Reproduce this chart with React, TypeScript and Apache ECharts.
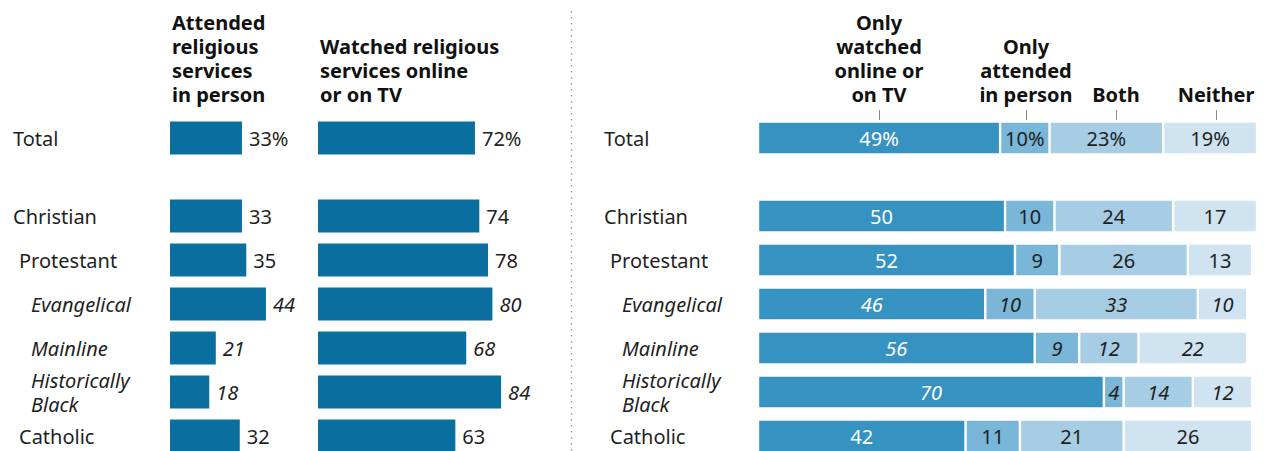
import React, { useEffect, useRef } from "react";
import * as echarts from "echarts";

const FONT = "'Noto Sans', sans-serif";
const TEXT = "#1f1f1f";

// ---- data ----
const totalCategory = ["Total"];
const groupCategories = ["Christian", "Protestant", "Evangelical", "Mainline", "Historically Black", "Catholic"];
const italicGroups = ["Evangelical", "Mainline", "Historically Black"];
const indentedGroups = ["Protestant", "Catholic"];

const attendedTotal = [33];
const attendedGroups = [33, 35, 44, 21, 18, 32];
const watchedTotal = [72];
const watchedGroups = [74, 78, 80, 68, 84, 63];

const onlyWatchedTotal = [49];
const onlyWatchedGroups = [50, 52, 46, 56, 70, 42];
const onlyAttendedTotal = [10];
const onlyAttendedGroups = [10, 9, 10, 9, 4, 11];
const bothTotal = [23];
const bothGroups = [24, 26, 33, 12, 14, 21];
const neitherTotal = [19];
const neitherGroups = [17, 13, 10, 22, 12, 26];

const leftHeaders = [
  "Attended\nreligious\nservices\nin person",
  "Watched religious\nservices online\nor on TV",
];
const rightHeaders = ["Only\nwatched\nonline or\non TV", "Only\nattended\nin person", "Both", "Neither"];

const LEFT_BAR = "#0a6e9f";
const SEG_COLORS = ["#3592c1", "#7ab6d7", "#a6cde3", "#d0e3f0"];

function catLabelFormatter(v: string) {
  const txt = v === "Historically Black" ? "Historically\nBlack" : v;
  const key = italicGroups.includes(v) ? "i" : indentedGroups.includes(v) ? "p" : "n";
  return txt
    .split("\n")
    .map((l) => `{${key}|${l}}`)
    .join("\n");
}

const richCat = {
  n: { fontSize: 20, fontFamily: FONT, color: TEXT, lineHeight: 24 },
  p: { fontSize: 20, fontFamily: FONT, color: TEXT, lineHeight: 24, padding: [0, 0, 0, 6] },
  i: { fontSize: 20, fontFamily: FONT, color: TEXT, lineHeight: 24, fontStyle: "italic", padding: [0, 0, 0, 18] },
};

export default function App() {
  const ref = useRef<HTMLDivElement>(null);
  useEffect(() => {
    if (!ref.current) return;
    const chart = echarts.init(ref.current, null, { renderer: "svg" });

    const grids = [
      { left: 170, top: 116, width: 218, height: 44 },
      { left: 170, top: 194, width: 218, height: 264 },
      { left: 318, top: 116, width: 218, height: 44 },
      { left: 318, top: 194, width: 218, height: 264 },
      { left: 758, top: 116, width: 504, height: 44 },
      { left: 758, top: 194, width: 504, height: 264 },
    ];
    const isTotalGrid = (i: number) => i % 2 === 0;

    const xAxis = grids.map((_, i) => ({
      type: "value",
      gridIndex: i,
      min: 0,
      max: i < 4 ? 100 : 102,
      show: false,
    }));
    const yAxis = grids.map((_, i) => {
      const showLabel = i === 0 || i === 1 || i === 4 || i === 5;
      return {
        type: "category",
        gridIndex: i,
        inverse: true,
        data: isTotalGrid(i) ? totalCategory : groupCategories,
        axisLine: { show: false },
        axisTick: { show: false },
        splitLine: { show: false },
        axisLabel: {
          show: showLabel,
          align: "left",
          margin: i < 4 ? 157 : 154,
          formatter: catLabelFormatter,
          rich: richCat,
        },
      };
    });

    const itemData = (vals: number[], cats: string[]) =>
      vals.map((v, k) => ({
        value: v,
        label: italicGroups.includes(cats[k]) ? { fontStyle: "italic" } : {},
      }));

    const leftSeries = (vals: number[], gi: number) => {
      const cats = isTotalGrid(gi) ? totalCategory : groupCategories;
      return {
        type: "bar",
        xAxisIndex: gi,
        yAxisIndex: gi,
        barWidth: 33,
        clip: false,
        data: itemData(vals, cats),
        itemStyle: { color: LEFT_BAR },
        label: {
          show: true,
          position: "right",
          distance: 7,
          fontSize: 20,
          fontFamily: FONT,
          color: TEXT,
          formatter: isTotalGrid(gi) ? "{c}%" : "{c}",
        },
      };
    };

    const segSets = [
      [onlyWatchedTotal, onlyWatchedGroups],
      [onlyAttendedTotal, onlyAttendedGroups],
      [bothTotal, bothGroups],
      [neitherTotal, neitherGroups],
    ];
    const rightSeries: any[] = [];
    [4, 5].forEach((gi) => {
      const cats = isTotalGrid(gi) ? totalCategory : groupCategories;
      segSets.forEach((set, s) => {
        rightSeries.push({
          type: "bar",
          stack: "g" + gi,
          xAxisIndex: gi,
          yAxisIndex: gi,
          barWidth: 33,
          clip: false,
          data: itemData(isTotalGrid(gi) ? set[0] : set[1], cats),
          itemStyle: { color: SEG_COLORS[s], borderColor: "#ffffff", borderWidth: 1.2 },
          label: {
            show: true,
            position: "inside",
            fontSize: 20,
            fontFamily: FONT,
            color: s === 0 ? "#ffffff" : TEXT,
            formatter: isTotalGrid(gi) ? "{c}%" : "{c}",
          },
        });
      });
    });

    const headerStyle = {
      fontSize: 20,
      fontWeight: "bold",
      fontFamily: FONT,
      fill: "#111111",
      lineHeight: 24,
      verticalAlign: "bottom",
    };
    const rightHeaderX = [879, 1026, 1116, 1216];

    const graphic: any[] = [
      { type: "text", x: 172, y: 106, style: { ...headerStyle, text: leftHeaders[0], align: "left" } },
      { type: "text", x: 320, y: 106, style: { ...headerStyle, text: leftHeaders[1], align: "left" } },
      ...rightHeaders.map((t, k) => ({
        type: "text",
        x: rightHeaderX[k],
        y: 106,
        style: { ...headerStyle, text: t, align: "center" },
      })),
      ...rightHeaderX.map((x) => ({
        type: "line",
        shape: { x1: x + 0.5, y1: 110, x2: x + 0.5, y2: 120 },
        style: { stroke: "#8a8a8a", lineWidth: 1 },
      })),
      {
        type: "line",
        shape: { x1: 571.5, y1: 11, x2: 571.5, y2: 460 },
        style: { stroke: "#9a9a9a", lineWidth: 1.5, lineDash: [1.5, 4.5] },
      },
    ];

    chart.setOption({
      animation: false,
      backgroundColor: "#ffffff",
      textStyle: { fontFamily: FONT },
      grid: grids,
      xAxis,
      yAxis,
      series: [
        leftSeries(attendedTotal, 0),
        leftSeries(attendedGroups, 1),
        leftSeries(watchedTotal, 2),
        leftSeries(watchedGroups, 3),
        ...rightSeries,
      ],
      graphic,
    });
    return () => chart.dispose();
  }, []);

  return (
    <div
      ref={ref}
      style={{ position: "fixed", left: 0, top: 0, width: 1264, height: 480, background: "#fff" }}
    />
  );
}
